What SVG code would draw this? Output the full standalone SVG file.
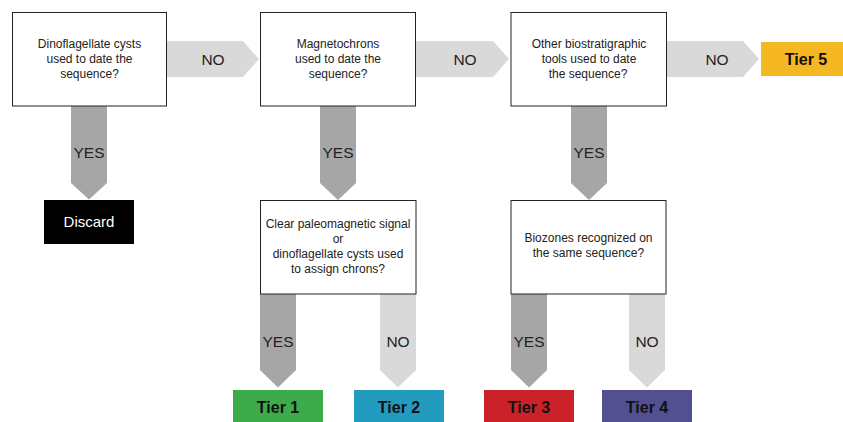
<svg xmlns="http://www.w3.org/2000/svg" width="843" height="422" viewBox="0 0 843 422">
<style>
.box{fill:#fff;stroke:#222;stroke-width:1}
.q{font-family:"Liberation Sans",Arial,sans-serif;font-size:12px;fill:#222;text-anchor:middle}
.lbl{font-family:"Liberation Sans",Arial,sans-serif;font-size:15.5px;fill:#222;text-anchor:middle}
.tier{font-family:"Liberation Sans",Arial,sans-serif;font-size:16px;font-weight:bold;fill:#111;text-anchor:middle}
.no{fill:#d9d9d9}
.yes{fill:#a6a6a6}
</style>
<rect width="843" height="422" fill="#fff"/>
<g id="connectors">
  <polygon class="no" points="167,41 243,41 259,59 243,77 167,77"/>
  <text class="lbl" x="213" y="64.5">NO</text>
  <polygon class="no" points="416,41 493,41 509,59 493,77 416,77"/>
  <text class="lbl" x="465" y="64.5">NO</text>
  <polygon class="no" points="667,41 743,41 759,59 743,77 667,77"/>
  <text class="lbl" x="717" y="64.5">NO</text>
  <polygon class="yes" points="71,106 107,106 107,183 89,199.5 71,183"/>
  <text class="lbl" x="89" y="158">YES</text>
  <polygon class="yes" points="320,106 356,106 356,183 338,200 320,183"/>
  <text class="lbl" x="338" y="158">YES</text>
  <polygon class="yes" points="571,106 607,106 607,183 589,200 571,183"/>
  <text class="lbl" x="589" y="158">YES</text>
  <polygon class="yes" points="260,294 296,294 296,370 278,387.5 260,370"/>
  <text class="lbl" x="278" y="347">YES</text>
  <polygon class="no" points="380,294 416,294 416,370 398,387.5 380,370"/>
  <text class="lbl" x="398" y="347">NO</text>
  <polygon class="yes" points="511,294 547,294 547,370 529,387.5 511,370"/>
  <text class="lbl" x="529" y="347">YES</text>
  <polygon class="no" points="629,294 665,294 665,370 647,387.5 629,370"/>
  <text class="lbl" x="647" y="347">NO</text>
</g>
<g id="q1">
  <rect class="box" x="12.5" y="12.5" width="154" height="93.5"/>
  <text class="q" x="89.5" y="47.5">Dinoflagellate cysts</text>
  <text class="q" x="89.5" y="62.5">used to date the</text>
  <text class="q" x="89.5" y="77.5">sequence?</text>
</g>
<g id="q2">
  <rect class="box" x="260.5" y="12.5" width="155" height="93.5"/>
  <text class="q" x="338" y="47.5">Magnetochrons</text>
  <text class="q" x="338" y="62.5">used to date the</text>
  <text class="q" x="338" y="77.5">sequence?</text>
</g>
<g id="q3">
  <rect class="box" x="511" y="12.5" width="155.5" height="93.5"/>
  <text class="q" x="589" y="47.5">Other biostratigraphic</text>
  <text class="q" x="589" y="62.5">tools used to date</text>
  <text class="q" x="588" y="77.5">the sequence?</text>
</g>
<g id="q4">
  <rect class="box" x="260.5" y="200.5" width="155.5" height="93.5"/>
  <text class="q" x="338" y="227.5">Clear paleomagnetic signal</text>
  <text class="q" x="338" y="242.5">or</text>
  <text class="q" x="338" y="257.5">dinoflagellate cysts used</text>
  <text class="q" x="338" y="272.5">to assign chrons?</text>
</g>
<g id="q5">
  <rect class="box" x="511" y="200.5" width="155" height="93.5"/>
  <text class="q" x="588.5" y="242">Biozones recognized on</text>
  <text class="q" x="588.5" y="257">the same sequence?</text>
</g>
<g id="discard">
  <rect x="44" y="200" width="90" height="44" fill="#000"/>
  <text x="89" y="227" font-family="Liberation Sans,Arial,sans-serif" font-size="15" fill="#fff" text-anchor="middle">Discard</text>
</g>
<g id="tier1">
  <rect x="233" y="390" width="90" height="34" fill="#3dab4a"/>
  <text class="tier" x="278" y="412.5">Tier 1</text>
</g>
<g id="tier2">
  <rect x="354" y="390" width="90" height="34" fill="#229bbf"/>
  <text class="tier" x="399" y="412.5">Tier 2</text>
</g>
<g id="tier3">
  <rect x="484" y="390" width="90" height="34" fill="#cb2229"/>
  <text class="tier" x="529" y="412.5">Tier 3</text>
</g>
<g id="tier4">
  <rect x="602" y="390" width="90" height="34" fill="#535092"/>
  <text class="tier" x="647" y="412.5">Tier 4</text>
</g>
<g id="tier5">
  <rect x="761" y="42" width="90" height="34" fill="#f5b823"/>
  <text class="tier" x="806" y="65">Tier 5</text>
</g>
</svg>
